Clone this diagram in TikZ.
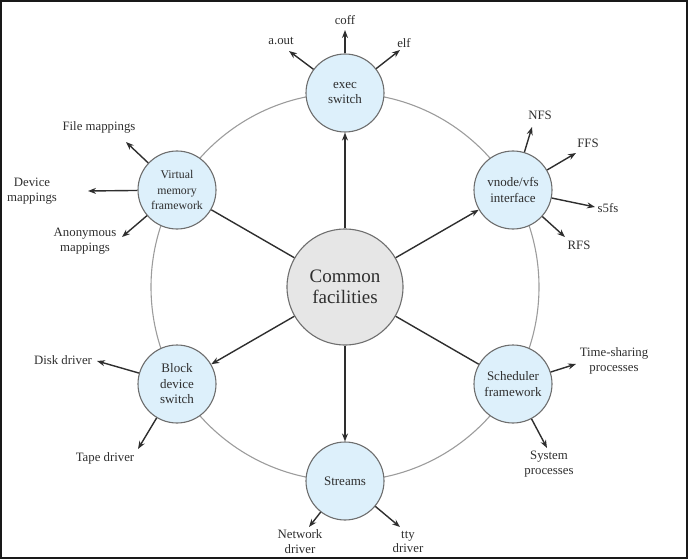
\documentclass[tikz,border=0pt]{standalone}
\usepackage{fontspec}
\setmainfont{Liberation Serif}
\usetikzlibrary{arrows.meta}
\definecolor{ringc}{HTML}{9C9C9C}
\definecolor{bluefill}{HTML}{DDF0FB}
\definecolor{edgec}{HTML}{6E6E6E}
\definecolor{greyfill}{HTML}{E6E6E6}
\definecolor{inkc}{HTML}{2E2E2E}
\begin{document}
\begin{tikzpicture}[x=1pt,y=-1pt,
  comp/.style={circle,draw=edgec,line width=1.1pt,fill=bluefill,minimum size=78pt,inner sep=0pt,align=center,text=inkc,font=\fontsize{13}{15.5}\selectfont},
  hub/.style={circle,draw=edgec,line width=1.1pt,fill=greyfill,minimum size=116pt,inner sep=0pt,align=center,text=inkc,font=\fontsize{19}{21}\selectfont},
  lbl/.style={align=center,text=inkc,inner sep=0pt,font=\fontsize{12.8}{14.8}\selectfont},
  arr/.style={draw=inkc,line width=1.4pt,-{Stealth[length=8pt,width=6pt]}},
  spoke/.style={draw=inkc,line width=1.4pt},
  ringline/.style={draw=ringc,line width=1.1pt},
  frameline/.style={draw=black!90,line width=2pt}]
\useasboundingbox (0,0) rectangle (688,559);
\draw[frameline] (1,1) rectangle (687,558);
\coordinate (ringc) at (345,287);
\draw[ringline] (ringc) circle[radius=194pt];

% central hub and components
\node[hub] (hub) at (345,287) {Common\\facilities};
\node[comp] (exec) at (345,93) {exec\\switch};
\node[comp] (vnode) at (513,190) {vnode/vfs\\interface};
\node[comp] (sched) at (513,384) {Scheduler\\framework};
\node[comp] (streams) at (345,481) {Streams};
\node[comp] (block) at (177,384) {Block\\device\\switch};
\node[comp,font=\fontsize{11.8}{15.5}\selectfont] (vm) at (177,190) {Virtual\\memory\\framework};

% spokes
\draw[arr] (hub) -- (exec);
\draw[arr] (hub) -- (vnode);
\draw[spoke] (hub) -- (sched);
\draw[arr] (hub) -- (streams);
\draw[arr] (hub) -- (block);
\draw[spoke] (hub) -- (vm);

% labels
\node[lbl] (aout) at (281,41) {a.out};
\node[lbl] (coff) at (345,20) {coff};
\node[lbl] (elf) at (404,43) {elf};
\node[lbl] (nfs) at (540,115) {NFS};
\node[lbl] (ffs) at (588,143) {FFS};
\node[lbl] (s5fs) at (608,208) {s5fs};
\node[lbl] (rfs) at (579,245) {RFS};
\node[lbl] (filemap) at (99,127) {File mappings};
\node[lbl] (devmap) at (32,191) {Device\\mappings};
\node[lbl] (anonmap) at (85,241) {Anonymous\\mappings};
\node[lbl] (disk) at (63,360) {Disk driver};
\node[lbl] (tape) at (105,458) {Tape driver};
\node[lbl] (timeshare) at (614,361) {Time-sharing\\processes};
\node[lbl] (system) at (549,464) {System\\processes};
\node[lbl] (network) at (300,542) {Network\\driver};
\node[lbl] (tty) at (408,542) {tty\\driver};

% arrow tips
\coordinate (t-aout) at (289,51);
\coordinate (t-coff) at (345,30);
\coordinate (t-elf) at (400,50);
\coordinate (t-nfs) at (532,127);
\coordinate (t-ffs) at (576,153);
\coordinate (t-s5fs) at (595,207);
\coordinate (t-rfs) at (565,237);
\coordinate (t-filemap) at (126,142);
\coordinate (t-devmap) at (88,191);
\coordinate (t-anonmap) at (122,237);
\coordinate (t-disk) at (97,361);
\coordinate (t-tape) at (138,449);
\coordinate (t-timeshare) at (576,364);
\coordinate (t-system) at (547,448);
\coordinate (t-network) at (309,527);
\coordinate (t-tty) at (400,527);

\draw[arr] (exec) -- (t-aout);
\draw[arr] (exec) -- (t-coff);
\draw[arr] (exec) -- (t-elf);
\draw[arr] (vnode) -- (t-nfs);
\draw[arr] (vnode) -- (t-ffs);
\draw[arr] (vnode) -- (t-s5fs);
\draw[arr] (vnode) -- (t-rfs);
\draw[arr] (vm) -- (t-filemap);
\draw[arr] (vm) -- (t-devmap);
\draw[arr] (vm) -- (t-anonmap);
\draw[arr] (block) -- (t-disk);
\draw[arr] (block) -- (t-tape);
\draw[arr] (sched) -- (t-timeshare);
\draw[arr] (sched) -- (t-system);
\draw[arr] (streams) -- (t-network);
\draw[arr] (streams) -- (t-tty);
\end{tikzpicture}
\end{document}
